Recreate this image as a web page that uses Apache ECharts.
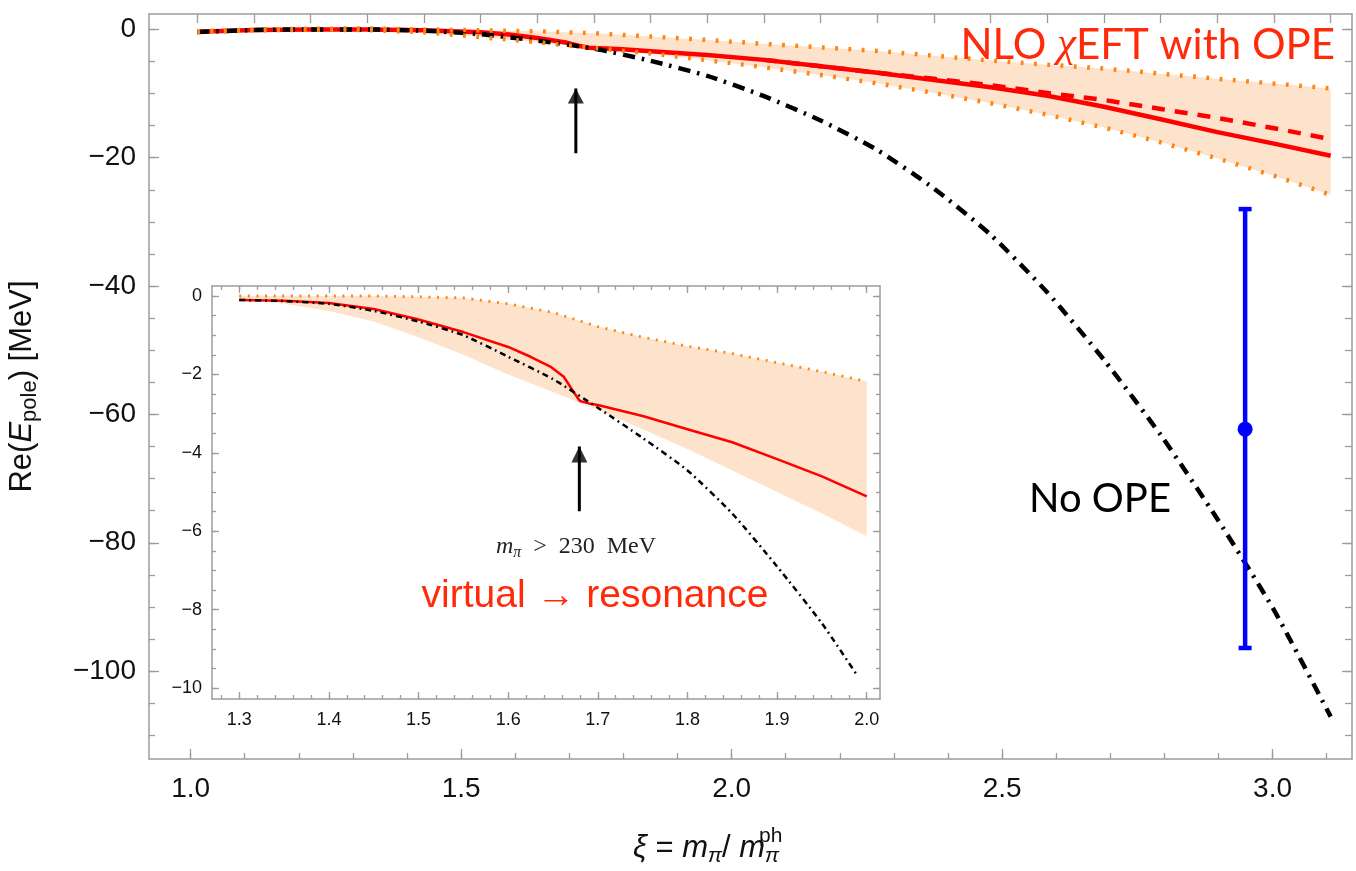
<!DOCTYPE html>
<html><head><meta charset="utf-8">
<script src="https://cdn.jsdelivr.net/npm/echarts@6/dist/echarts.min.js"></script>
<style>html,body{margin:0;padding:0;background:#fff}#c{width:1356px;height:871px}</style>
</head><body><div id="c"></div>
<script>
// ---------- main panel data ----------
const bandX      = [1.0,1.1,1.2,1.3,1.4,1.5,1.6,1.7,1.8,1.9,2.0,2.1,2.2,2.3,2.4,2.5,2.6,2.7,2.8,2.9,3.0];
const bandUpper  = [-0.3,-0.05,0.1,0.15,0.0,-0.15,-0.3,-0.6,-1.1,-1.65,-2.25,-2.8,-3.35,-4.1,-4.85,-5.5,-6.1,-6.9,-7.7,-8.45,-9.2];
const bandLower  = [-0.45,-0.15,-0.05,-0.1,-0.45,-1.2,-2.0,-2.9,-3.75,-4.8,-5.9,-7.1,-8.4,-9.9,-11.5,-13.3,-15.3,-17.6,-20.1,-22.8,-25.8];
const noOpeY     = [-0.4,-0.1,0.0,0.0,-0.2,-0.75,-1.75,-3.0,-4.9,-7.25,-10.4,-14.2,-18.8,-24.8,-32.0,-41.0,-51.5,-63.2,-76.3,-90.5,-107.1];
const nloX       = [1.0,1.1,1.2,1.3,1.4,1.5,1.55,1.6,1.65,1.67,1.69,1.75,1.8,1.9,2.0,2.1,2.2,2.3,2.4,2.5,2.6,2.7,2.8,2.9,3.0];
const nloY       = [-0.37,-0.1,0.0,0.0,-0.15,-0.45,-0.8,-1.35,-2.05,-2.5,-2.85,-3.1,-3.4,-4.0,-4.75,-5.75,-6.75,-7.9,-9.0,-10.35,-12.05,-14.0,-16.0,-17.8,-19.7];
const nloAltX    = [2.0,2.1,2.2,2.3,2.4,2.5,2.6,2.7,2.8,2.9,3.0];
const nloAltY    = [-4.75,-5.75,-6.75,-7.7,-8.7,-9.9,-11.0,-12.4,-13.8,-15.4,-17.1];
const latticeX   = 2.849, latticeE = -62.3, latticeLo = -96.4, latticeHi = -28.0;
const mainArrow  = {x:1.668, from:-19.3, tip:-9.2};

// ---------- inset data ----------
const insBandX   = [1.3,1.35,1.4,1.45,1.5,1.55,1.6,1.65,1.7,1.75,1.8,1.85,1.9,1.95,2.0];
const insUpper   = [0.0,0.0,0.0,0.0,-0.02,-0.05,-0.2,-0.42,-0.78,-1.05,-1.28,-1.47,-1.7,-1.93,-2.18];
const insLower   = [-0.07,-0.2,-0.38,-0.65,-1.05,-1.5,-2.0,-2.45,-2.9,-3.4,-3.9,-4.45,-5.0,-5.55,-6.13];
const insNoOpeX  = [1.3,1.35,1.4,1.45,1.5,1.55,1.6,1.65,1.7,1.75,1.8,1.85,1.9,1.95,1.99];
const insNoOpeY  = [-0.1,-0.13,-0.2,-0.38,-0.65,-1.0,-1.55,-2.12,-2.85,-3.62,-4.45,-5.55,-6.9,-8.35,-9.7];
const insNloX    = [1.3,1.35,1.4,1.45,1.5,1.55,1.6,1.625,1.647,1.662,1.673,1.68,1.69,1.7,1.75,1.8,1.85,1.9,1.95,2.0];
const insNloY    = [-0.1,-0.12,-0.18,-0.33,-0.6,-0.92,-1.3,-1.55,-1.8,-2.06,-2.45,-2.68,-2.74,-2.78,-3.06,-3.4,-3.73,-4.16,-4.6,-5.11];
const insArrow   = {x:1.6794, from:-5.49, tip:-3.84};

// ---------- tick labels ----------
const mainXLabels = ['1.0','1.5','2.0','2.5','3.0'];
const mainYLabels = [0,-20,-40,-60,-80,-100];
const insXLabels  = ['1.3','1.4','1.5','1.6','1.7','1.8','1.9','2.0'];
const insYLabels  = [0,-2,-4,-6,-8,-10];

function range(a,b,s){const o=[];const n=Math.round((b-a)/s);for(let i=0;i<=n;i++)o.push(+(a+i*s).toFixed(4));return o;}
const zip=(xs,ys)=>xs.map((x,i)=>[x,ys[i]]);
const AX='#9c9c9c', RED='#FF2A0A', ORANGE='#FF8410', FILL='#FDE3CC';
const minus=v=>v===0?'0':'\u2212'+Math.abs(v);

function ax(o){
  return {type:'value', gridIndex:o.grid, position:o.pos, min:o.min, max:o.max, offset:0,
    splitLine:{show:false}, minorTick:{show:false},
    axisLine:{show:!!o.line, onZero:false, lineStyle:{color:AX,width:1.5}},
    axisTick:{show:true, inside:true, length:o.len, customValues:o.ticks, lineStyle:{color:AX,width:1.3}},
    axisLabel:o.labels?{show:true, customValues:o.labels, formatter:o.fmt, fontSize:o.fs, margin:o.margin,
      color:'#111', fontFamily:'Liberation Sans'}:{show:false},
    name:o.name, nameLocation:'middle', nameGap:o.nameGap, nameRotate:o.nameRotate, nameTextStyle:o.nameTextStyle,
    z:5};
}
const MX=[0.9148,3.0376], MBX=[0.9231,3.1468], MY=[-113.7,2.4];
const IX=[1.2696,2.0148], IY=[-10.28,0.255];

const xAxes=[
  ax({grid:0,pos:'bottom',min:MBX[0],max:MBX[1],line:true,len:10,ticks:mainXLabels.map(Number),labels:mainXLabels.map(Number),fmt:v=>v.toFixed(1),fs:28,margin:16}),
  ax({grid:0,pos:'bottom',min:MBX[0],max:MBX[1],len:6,ticks:range(1.0,3.1,0.1)}),
  ax({grid:0,pos:'top',min:MX[0],max:MX[1],line:true,len:9,ticks:range(1.0,3.0,0.1)}),
  ax({grid:1,pos:'bottom',min:IX[0],max:IX[1],line:true,len:7,ticks:insXLabels.map(Number),labels:insXLabels.map(Number),fmt:v=>v.toFixed(1),fs:18,margin:12}),
  ax({grid:1,pos:'bottom',min:IX[0],max:IX[1],len:4,ticks:range(1.28,2.0,0.02)}),
  ax({grid:1,pos:'top',min:IX[0],max:IX[1],line:true,len:7,ticks:insXLabels.map(Number)}),
  ax({grid:1,pos:'top',min:IX[0],max:IX[1],len:4,ticks:range(1.28,2.0,0.02)})
];
const yAxes=[
  ax({grid:0,pos:'left',min:MY[0],max:MY[1],line:true,len:10,ticks:mainYLabels,labels:mainYLabels,fmt:minus,fs:28,margin:13,
     name:'{a|Re(}{i|E}{s|pole}{a|) [MeV]}', nameGap:108, nameRotate:90,
     nameTextStyle:{color:'#111',rich:{a:{fontSize:31,fontFamily:'Liberation Sans',color:'#111'},
       i:{fontSize:31,fontFamily:'Liberation Sans',fontStyle:'italic',color:'#111'},
       s:{fontSize:22,fontFamily:'Liberation Sans',color:'#111',padding:[16,0,0,0]}}}}),
  ax({grid:0,pos:'left',min:MY[0],max:MY[1],len:6,ticks:range(-110,0,5)}),
  ax({grid:0,pos:'right',min:MY[0],max:MY[1],line:true,len:10,ticks:mainYLabels}),
  ax({grid:0,pos:'right',min:MY[0],max:MY[1],len:7,ticks:range(-110,0,5)}),
  ax({grid:1,pos:'left',min:IY[0],max:IY[1],line:true,len:7,ticks:insYLabels,labels:insYLabels,fmt:minus,fs:18,margin:10}),
  ax({grid:1,pos:'left',min:IY[0],max:IY[1],len:4,ticks:range(-10,0,0.5)}),
  ax({grid:1,pos:'right',min:IY[0],max:IY[1],line:true,len:7,ticks:insYLabels}),
  ax({grid:1,pos:'right',min:IY[0],max:IY[1],len:4,ticks:range(-10,0,0.5)})
];

function bandSeries(xi,yi,xs,up,lo){
  return {type:'custom', xAxisIndex:xi, yAxisIndex:yi, silent:true, clip:false, z:1,
    data:[[xs[0],up[0]]],
    renderItem:(p,api)=>{
      const pts=[];
      for(let i=0;i<xs.length;i++)pts.push(api.coord([xs[i],up[i]]));
      for(let i=xs.length-1;i>=0;i--)pts.push(api.coord([xs[i],lo[i]]));
      return {type:'polygon', shape:{points:pts}, style:{fill:FILL}};
    }};
}
function line(xi,yi,data,color,width,type,z,smooth){
  return {type:'line', xAxisIndex:xi, yAxisIndex:yi, data, showSymbol:false, symbol:'none', silent:true,
    smooth:smooth||false, lineStyle:{color,width,type,cap:'butt',join:'round'}, z:z||2};
}
function arrow(xi,yi,a,w,head){
  return [
    {type:'line', xAxisIndex:xi, yAxisIndex:yi, data:[[a.x,a.from],[a.x,a.tip]], showSymbol:false, symbol:'none', silent:true,
     lineStyle:{color:'#000',width:w}, z:6},
    {type:'scatter', xAxisIndex:xi, yAxisIndex:yi, data:[[a.x,a.tip]], symbol:'triangle', symbolSize:head,
     symbolOffset:[0,'50%'], itemStyle:{color:'#000'}, silent:true, z:6}
  ];
}

const series=[
  bandSeries(2,0,bandX,bandUpper,bandLower),
  line(2,0,zip(nloX,nloY),'#FF0000',4.5,'solid',3),
  line(2,0,zip(nloAltX,nloAltY),'#FF0000',4.5,[13,10],3),
  line(2,0,zip(bandX,noOpeY),'#000',4.5,[12,7,2.5,7],4,0.2),
  line(2,0,zip(bandX,bandUpper),ORANGE,4.5,[2.8,10.5],4),
  line(2,0,zip(bandX,bandLower),ORANGE,4.5,[2.8,10.5],4),
  {type:'line', xAxisIndex:2, yAxisIndex:0, data:[[latticeX,latticeLo],[latticeX,latticeHi]], showSymbol:true, symbol:'rect',
   symbolSize:[13,4.5], lineStyle:{color:'#0000FF',width:4.5}, itemStyle:{color:'#0000FF'}, silent:true, z:5},
  {type:'scatter', xAxisIndex:2, yAxisIndex:0, data:[[latticeX,latticeE]], symbol:'circle', symbolSize:15,
   itemStyle:{color:'#0000FF',opacity:1}, silent:true, z:5},
  ...arrow(2,0,mainArrow,3,[16,15]),
  // inset
  bandSeries(3,4,insBandX,insUpper,insLower),
  line(3,4,zip(insBandX,insUpper),ORANGE,2.8,[2,6.6],3),
  line(3,4,zip(insNloX,insNloY),'#FF0000',2.5,'solid',3),
  line(3,4,zip(insNoOpeX,insNoOpeY),'#000',2.5,[6,4,1.8,4],4,0.2),
  ...arrow(3,4,insArrow,3,[16,16])
];

const chart=echarts.init(document.getElementById('c'),null,{renderer:'canvas'});
chart.setOption({
  backgroundColor:'#fff', animation:false,
  grid:[{left:149,top:14,right:4,bottom:112,outerBoundsMode:'none',containLabel:false},
        {left:212,top:286,right:476,bottom:172,show:true,backgroundColor:'#fff',borderWidth:0,z:1,outerBoundsMode:'none',containLabel:false}],
  xAxis:xAxes, yAxis:yAxes, series,
  graphic:[
    {type:'text', x:1335, y:45, z:20, style:{text:'{a|NLO }{c|\u03C7}{a|EFT with OPE}', align:'right', verticalAlign:'middle',
      rich:{a:{fontSize:42,fontFamily:'Lato',fill:RED}, c:{fontSize:43,fontFamily:'Liberation Serif',fontStyle:'italic',fill:RED}}}},
    {type:'text', x:1100, y:499, z:20, style:{text:'No OPE', align:'center', verticalAlign:'middle', fontSize:40, fontFamily:'Lato', fill:'#000'}},
    {type:'text', x:595, y:596, z:20, style:{text:'virtual \u2192 resonance', align:'center', verticalAlign:'middle', fontSize:39, fontFamily:'Liberation Sans', fill:RED}},
    {type:'text', x:576, y:547, z:20, style:{text:'{i|m}{s|\u03C0}{r|  >  230  MeV}', align:'center', verticalAlign:'middle',
      rich:{i:{fontSize:24,fontFamily:'Liberation Serif',fontStyle:'italic',fill:'#222'},
            s:{fontSize:16,fontFamily:'Liberation Serif',fontStyle:'italic',fill:'#222',padding:[12,0,0,0]},
            r:{fontSize:24,fontFamily:'Liberation Serif',fill:'#222'}}}},
    {type:'text', x:633, y:848, z:20, style:{text:'{i|\u03BE}{r| = }{i|m}{s|\u03C0}{r|/ }{i|m}{s|\u03C0}', align:'left', verticalAlign:'middle',
      rich:{i:{fontSize:31,fontFamily:'Liberation Sans',fontStyle:'italic',fill:'#111'},
            r:{fontSize:31,fontFamily:'Liberation Sans',fill:'#111'},
            s:{fontSize:21,fontFamily:'Liberation Sans',fontStyle:'italic',fill:'#111',padding:[16,0,0,0]}}}},
    {type:'text', x:759, y:836, z:20, style:{text:'ph', align:'left', verticalAlign:'middle', fontSize:21, fontFamily:'Liberation Sans', fill:'#111'}}
  ]
});
</script></body></html>
